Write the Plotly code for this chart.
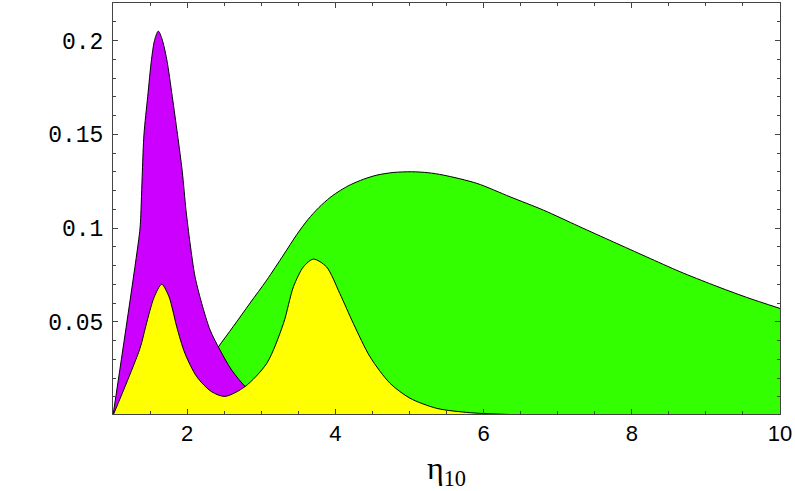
import plotly.graph_objects as go

# green (broad) curve
green_x = [1.0, 1.5, 1.8, 2.0, 2.2, 2.42, 2.62, 2.85, 3.074, 3.30, 3.48, 3.63, 3.78, 3.93, 4.07,
           4.20, 4.38, 4.56, 4.78, 5.03, 5.25, 5.46, 5.91, 6.36, 6.81, 7.28, 7.75, 8.20, 8.65,
           9.10, 9.55, 10.0]
green_y = [0.0, 0.001, 0.005, 0.012, 0.024, 0.0365, 0.0473, 0.060, 0.0722, 0.0856, 0.0965, 0.1045,
           0.1110, 0.1163, 0.1201, 0.1230, 0.1260, 0.1282, 0.1296, 0.130, 0.1295, 0.1282, 0.1238,
           0.1166, 0.1095, 0.101, 0.0926, 0.0846, 0.0767, 0.0696, 0.063, 0.0571]

# purple (sharp peak) curve
purple_x = [1.0, 1.36, 1.373, 1.396, 1.418, 1.468, 1.52, 1.56, 1.611, 1.66, 1.725, 1.80, 1.87,
            1.935, 1.985, 2.04, 2.107, 2.197, 2.31, 2.444, 2.60, 2.80, 3.0, 3.3, 3.6, 4.0, 5.0,
            10.0]
purple_y = [0.0, 0.098, 0.105, 0.13, 0.15, 0.17, 0.19, 0.200, 0.205, 0.201, 0.19, 0.17, 0.15,
            0.13, 0.1095, 0.0918, 0.074, 0.0598, 0.0456, 0.0349, 0.0243, 0.0148, 0.009, 0.004,
            0.002, 0.001, 0.0, 0.0]

# yellow (double peak) curve
yellow_x = [1.0, 1.364, 1.44, 1.50, 1.557, 1.657, 1.756, 1.806, 1.86, 1.97, 2.13, 2.33, 2.51,
            2.78, 3.074, 3.30, 3.435, 3.57, 3.703, 3.88, 4.06, 4.243, 4.468, 4.738, 5.008, 5.37,
            5.82, 6.31, 7.0, 10.0]
yellow_y = [0.0, 0.0358, 0.0473, 0.0562, 0.0633, 0.070, 0.0633, 0.0562, 0.0473, 0.0332, 0.0207,
            0.0127, 0.0102, 0.0154, 0.0278, 0.0491, 0.0687, 0.0793, 0.0834, 0.0793, 0.0651,
            0.0491, 0.0313, 0.0172, 0.0092, 0.0038, 0.0015, 0.0006, 0.0, 0.0]

x_ticks = [2, 4, 6, 8, 10]
y_ticks = [0.05, 0.1, 0.15, 0.2]
y_labels = ["0.05", "0.1", "0.15", "0.2"]

fig = go.Figure()
for xs, ys, col in [(green_x, green_y, "#33ff00"),
                    (purple_x, purple_y, "#cc00ff"),
                    (yellow_x, yellow_y, "#ffff00")]:
  fig.add_trace(go.Scatter(
    x=xs, y=ys, mode="lines", fill="tozeroy", fillcolor=col,
    line=dict(color="black", width=1, shape="spline", smoothing=0.8),
    hoverinfo="skip"
  ))

fig.update_layout(
  width=795, height=491,
  margin=dict(l=113, r=15, t=3, b=77),
  plot_bgcolor="white", paper_bgcolor="white",
  showlegend=False,
  xaxis=dict(
    range=[1, 10], tickvals=x_ticks, ticks="inside", ticklen=5,
    showline=True, linecolor="#444", linewidth=1, mirror="ticks",
    showgrid=False, zeroline=False, automargin=False,
    tickfont=dict(family="Liberation Sans", size=22, color="black"),
    minor=dict(dtick=0.5, tick0=0, ticks="inside", ticklen=3, showgrid=False),
    title=dict(text="η<sub>10</sub>", standoff=12,
               font=dict(family="Liberation Serif", size=32, color="black"))
  ),
  yaxis=dict(
    range=[0.0008, 0.22], tickvals=y_ticks, ticktext=y_labels, ticks="inside", ticklen=5,
    showline=True, linecolor="#444", linewidth=1, mirror="ticks",
    showgrid=False, zeroline=False, automargin=False, ticklabelstandoff=4,
    tickfont=dict(family="Liberation Mono", size=23, color="black"),
    minor=dict(dtick=0.01, tick0=0, ticks="inside", ticklen=3, showgrid=False)
  )
)

# page body has a default 8px margin; drop it so the figure sits at the window corner
fig.write_html("out.html", config={"displayModeBar": False},
               post_script="document.body.style.margin='0';")
